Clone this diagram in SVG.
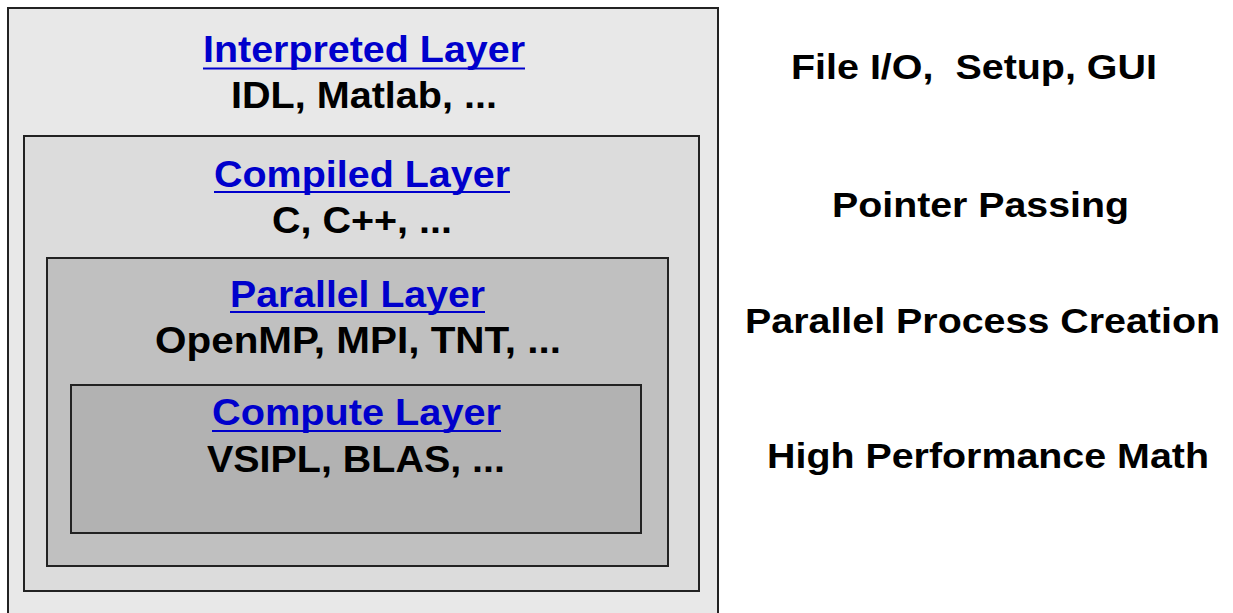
<svg xmlns="http://www.w3.org/2000/svg" width="1233" height="613" viewBox="0 0 1233 613">
<style>
.box{stroke:#222;stroke-width:2}
.t{font-family:"Liberation Sans",Arial,sans-serif;font-weight:bold;font-size:37px;text-anchor:middle}
.title{fill:#0000cc}
.sub{fill:#000}
.ul{stroke:#0000cc;stroke-width:2}
.side{font-family:"Liberation Sans",Arial,sans-serif;font-weight:bold;font-size:35px;text-anchor:middle;fill:#000}
</style>
<rect width="1233" height="613" fill="#fff"/>
<g id="interpreted">
<rect class="box" x="8" y="8" width="710" height="620" fill="#e8e8e8"/>
<text class="t title" x="364" y="62" textLength="322" lengthAdjust="spacingAndGlyphs">Interpreted Layer</text>
<line class="ul" x1="203" y1="68.5" x2="525" y2="68.5"/>
<text class="t sub" x="364" y="108" textLength="266" lengthAdjust="spacingAndGlyphs">IDL, Matlab, ...</text>
</g>
<g id="compiled">
<rect class="box" x="24" y="136" width="675" height="455" fill="#dcdcdc"/>
<text class="t title" x="362" y="186.5" textLength="296" lengthAdjust="spacingAndGlyphs">Compiled Layer</text>
<line class="ul" x1="214" y1="192" x2="510" y2="192"/>
<text class="t sub" x="362" y="232.5" textLength="180" lengthAdjust="spacingAndGlyphs">C, C++, ...</text>
</g>
<g id="parallel">
<rect class="box" x="47" y="258" width="621" height="308" fill="#c0c0c0"/>
<text class="t title" x="357.5" y="306.5" textLength="255" lengthAdjust="spacingAndGlyphs">Parallel Layer</text>
<line class="ul" x1="230" y1="312" x2="485" y2="312"/>
<text class="t sub" x="358" y="352.5" textLength="406" lengthAdjust="spacingAndGlyphs">OpenMP, MPI, TNT, ...</text>
</g>
<g id="compute">
<rect class="box" x="71" y="385" width="570" height="148" fill="#b2b2b2"/>
<text class="t title" x="356.5" y="424.5" textLength="289" lengthAdjust="spacingAndGlyphs">Compute Layer</text>
<line class="ul" x1="212" y1="431" x2="501" y2="431"/>
<text class="t sub" x="356" y="471.5" textLength="298" lengthAdjust="spacingAndGlyphs">VSIPL, BLAS, ...</text>
</g>
<g id="labels">
<text class="side" x="974" y="79" textLength="366" lengthAdjust="spacingAndGlyphs" xml:space="preserve">File I/O,  Setup, GUI</text>
<text class="side" x="980.5" y="217" textLength="297" lengthAdjust="spacingAndGlyphs">Pointer Passing</text>
<text class="side" x="982.5" y="333" textLength="475" lengthAdjust="spacingAndGlyphs">Parallel Process Creation</text>
<text class="side" x="988" y="468" textLength="442" lengthAdjust="spacingAndGlyphs">High Performance Math</text>
</g>
<g id="connectors"></g>
</svg>
